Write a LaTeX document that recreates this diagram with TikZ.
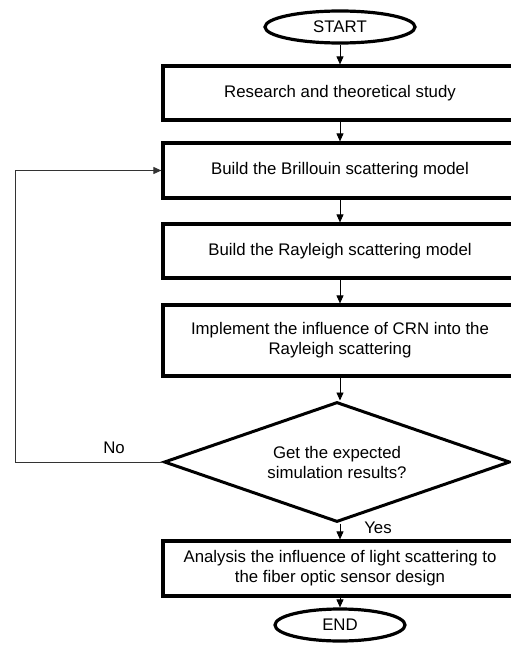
\documentclass[tikz,border=0pt]{standalone}
\usepackage{fontspec}
\setmainfont{Liberation Sans}
\usetikzlibrary{shapes.geometric,arrows.meta}
\begin{document}
\begin{tikzpicture}[x=1pt,y=-1pt,
  txt/.style={font=\fontsize{16.8}{20}\selectfont},
  procbox/.style={txt,draw,line width=3.2pt,rectangle,minimum width=354pt,inner sep=0pt,align=center},
  term/.style={txt,draw,line width=3.2pt,ellipse,inner sep=0pt},
  decide/.style={txt,draw,line width=3pt,diamond,aspect=2.9,inner sep=0pt,align=center,minimum width=346pt,minimum height=120pt},
  flow/.style={line width=0.9pt,-{Triangle[length=8pt,width=7pt]}},
  loopline/.style={line width=0.9pt,draw=black!80,-{Triangle[length=8pt,width=7pt]}},
  lbl/.style={txt}]
\clip (0,0) rectangle (511,648);
\node[term,minimum width=150pt,minimum height=32pt] (start) at (340,27) {START};
\node[procbox,minimum height=54pt] (b1) at (340,93) {Research and theoretical study};
\node[procbox,minimum height=55pt] (b2) at (340,170.5) {Build the Brillouin scattering model};
\node[procbox,minimum height=54pt] (b3) at (340,251) {Build the Rayleigh scattering model};
\node[procbox,minimum height=71pt] (b4) at (340,340.5) {Implement the influence of CRN into the\\Rayleigh scattering};
\node[decide] (dec) at (337,462) {Get the expected\\simulation results?};
\node[procbox,minimum height=55pt] (b5) at (340,568.5) {Analysis the influence of light scattering to\\the fiber optic sensor design};
\node[term,minimum width=130pt,minimum height=32pt] (end) at (340,625) {END};
\coordinate (loopc) at (15,462);
\node[lbl] (no) at (114,448) {No};
\node[lbl] (yes) at (378,528) {Yes};
\draw[flow] (start) -- (b1);
\draw[flow] (b1) -- (b2);
\draw[flow] (b2) -- (b3);
\draw[flow] (b3) -- (b4);
\draw[flow] (b4.south) -- (b4.south |- dec.north);
\draw[flow] (b5.north |- dec.south) -- (b5.north);
\draw[flow] (b5) -- (end);
\draw[loopline] (dec.west) -- (loopc) |- (b2.west);
\end{tikzpicture}
\end{document}
